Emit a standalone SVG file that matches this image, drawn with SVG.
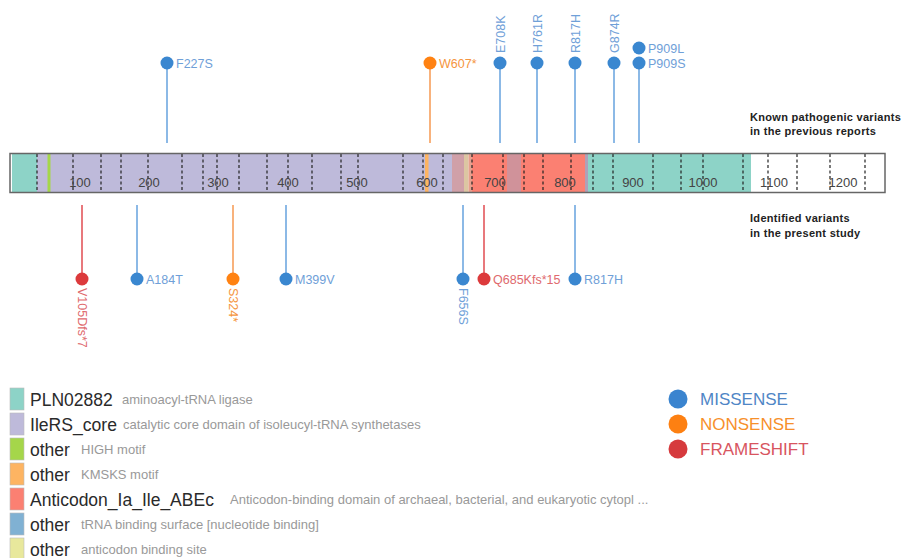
<svg xmlns="http://www.w3.org/2000/svg" width="902" height="558" viewBox="0 0 902 558">
<style>
text{font-family:"Liberation Sans",Arial,sans-serif}
.tick{font-size:13px;fill:#444;text-anchor:middle}
.dash{stroke:#222;stroke-width:1.2;stroke-dasharray:3 2.5}
.sb{stroke:#8cb9e6;stroke-width:2}
.so{stroke:#f8b27c;stroke-width:2}
.sr{stroke:#e8787c;stroke-width:2}
.cb{fill:#3a87d0}
.co{fill:#ff8212}
.cr{fill:#dc3a3c}
.lb{font-size:12.5px;fill:#6fa0d8}
.lo{font-size:12.5px;fill:#f59540}
.lr{font-size:12.5px;fill:#e06a6e}
.note{font-size:11px;font-weight:bold;fill:#222;letter-spacing:0.3px}
.lgm{font-size:17.5px;fill:#2a2a2a}
.lgd{font-size:13px;fill:#999}
.sw{stroke:#bbb;stroke-width:0.6}
.kt{font-size:17px}
</style>

<g id="protein-bar">
  <rect x="10" y="153.5" width="875" height="39" fill="#ffffff"/>
  <rect x="12" y="153.5" width="25" height="39" fill="#8dd3c7"/>
  <rect x="37" y="153.5" width="415" height="39" fill="#bebada"/>
  <rect x="47.5" y="153.5" width="3" height="39" fill="#a5d64a"/>
  <rect x="425" y="153.5" width="3.5" height="39" fill="#fdb462"/>
  <rect x="452" y="153.5" width="12" height="39" fill="#d0a0a8"/>
  <rect x="464" y="153.5" width="4.5" height="39" fill="#dcc6a2"/>
  <rect x="468.5" y="153.5" width="3.5" height="39" fill="#e7a08e"/>
  <rect x="472" y="153.5" width="35" height="39" fill="#fb8072"/>
  <rect x="507" y="153.5" width="14" height="39" fill="#d0929a"/>
  <rect x="521" y="153.5" width="64" height="39" fill="#fb8072"/>
  <rect x="585" y="153.5" width="3" height="39" fill="#b0a0b8"/>
  <rect x="588" y="153.5" width="163" height="39" fill="#8dd3c7"/>
  <g id="dashes">
    <line class="dash" x1="37" y1="154" x2="37" y2="192"/>
    <line class="dash" x1="73" y1="154" x2="73" y2="192"/>
    <line class="dash" x1="101" y1="154" x2="101" y2="192"/>
    <line class="dash" x1="121" y1="154" x2="121" y2="192"/>
    <line class="dash" x1="148" y1="154" x2="148" y2="192"/>
    <line class="dash" x1="182" y1="154" x2="182" y2="192"/>
    <line class="dash" x1="203" y1="154" x2="203" y2="192"/>
    <line class="dash" x1="217" y1="154" x2="217" y2="192"/>
    <line class="dash" x1="239" y1="154" x2="239" y2="192"/>
    <line class="dash" x1="267" y1="154" x2="267" y2="192"/>
    <line class="dash" x1="288" y1="154" x2="288" y2="192"/>
    <line class="dash" x1="312" y1="154" x2="312" y2="192"/>
    <line class="dash" x1="341" y1="154" x2="341" y2="192"/>
    <line class="dash" x1="358" y1="154" x2="358" y2="192"/>
    <line class="dash" x1="403" y1="154" x2="403" y2="192"/>
    <line class="dash" x1="423" y1="154" x2="423" y2="192"/>
    <line class="dash" x1="443" y1="154" x2="443" y2="192"/>
    <line class="dash" x1="472" y1="154" x2="472" y2="192"/>
    <line class="dash" x1="503" y1="154" x2="503" y2="192"/>
    <line class="dash" x1="524" y1="154" x2="524" y2="192"/>
    <line class="dash" x1="543" y1="154" x2="543" y2="192"/>
    <line class="dash" x1="571" y1="154" x2="571" y2="192"/>
    <line class="dash" x1="593" y1="154" x2="593" y2="192"/>
    <line class="dash" x1="613" y1="154" x2="613" y2="192"/>
    <line class="dash" x1="653" y1="154" x2="653" y2="192"/>
    <line class="dash" x1="681" y1="154" x2="681" y2="192"/>
    <line class="dash" x1="703" y1="154" x2="703" y2="192"/>
    <line class="dash" x1="743" y1="154" x2="743" y2="192"/>
    <line class="dash" x1="768" y1="154" x2="768" y2="192"/>
    <line class="dash" x1="797" y1="154" x2="797" y2="192"/>
    <line class="dash" x1="830" y1="154" x2="830" y2="192"/>
    <line class="dash" x1="865" y1="154" x2="865" y2="192"/>
  </g>
  <rect x="10" y="153.5" width="875" height="39" fill="none" stroke="#666" stroke-width="1.5"/>
  <g id="ticks">
    <text class="tick" x="80" y="187">100</text>
    <text class="tick" x="149" y="187">200</text>
    <text class="tick" x="218" y="187">300</text>
    <text class="tick" x="288" y="187">400</text>
    <text class="tick" x="357" y="187">500</text>
    <text class="tick" x="427" y="187">600</text>
    <text class="tick" x="495" y="187">700</text>
    <text class="tick" x="565" y="187">800</text>
    <text class="tick" x="633" y="187">900</text>
    <text class="tick" x="703" y="187">1000</text>
    <text class="tick" x="774" y="187">1100</text>
    <text class="tick" x="843" y="187">1200</text>
  </g>
</g>

<g id="connectors">
  <line class="sb" x1="167" y1="63" x2="167" y2="143"/>
  <line class="so" x1="430" y1="63" x2="430" y2="143"/>
  <line class="sb" x1="500" y1="63" x2="500" y2="143"/>
  <line class="sb" x1="537" y1="63" x2="537" y2="143"/>
  <line class="sb" x1="575" y1="63" x2="575" y2="143"/>
  <line class="sb" x1="614" y1="63" x2="614" y2="143"/>
  <line class="sb" x1="639" y1="63" x2="639" y2="143"/>
  <line class="sr" x1="82" y1="205" x2="82" y2="279"/>
  <line class="sb" x1="137" y1="205" x2="137" y2="279"/>
  <line class="so" x1="233" y1="205" x2="233" y2="279"/>
  <line class="sb" x1="286" y1="205" x2="286" y2="279"/>
  <line class="sb" x1="463" y1="205" x2="463" y2="279"/>
  <line class="sr" x1="484" y1="205" x2="484" y2="279"/>
  <line class="sb" x1="575" y1="205" x2="575" y2="279"/>
</g>

<g id="v-F227S"><circle class="cb" cx="167" cy="63" r="6.5"/><text class="lb" x="176" y="67.5">F227S</text></g>
<g id="v-W607"><circle class="co" cx="430" cy="63" r="6.5"/><text class="lo" x="439" y="67.5">W607*</text></g>
<g id="v-E708K"><circle class="cb" cx="500" cy="63" r="6.5"/><text class="lb" transform="translate(504.5,53) rotate(-90)">E708K</text></g>
<g id="v-H761R"><circle class="cb" cx="537" cy="63" r="6.5"/><text class="lb" transform="translate(541.5,53) rotate(-90)">H761R</text></g>
<g id="v-R817H-top"><circle class="cb" cx="575" cy="63" r="6.5"/><text class="lb" transform="translate(579.5,53) rotate(-90)">R817H</text></g>
<g id="v-G874R"><circle class="cb" cx="614" cy="63" r="6.5"/><text class="lb" transform="translate(618.5,53) rotate(-90)">G874R</text></g>
<g id="v-P909L"><circle class="cb" cx="639" cy="48" r="6.5"/><text class="lb" x="648" y="52.5">P909L</text></g>
<g id="v-P909S"><circle class="cb" cx="639" cy="63" r="6.5"/><text class="lb" x="648" y="67.5">P909S</text></g>

<g id="v-V105Dfs"><circle class="cr" cx="82" cy="279" r="6.5"/><text class="lr" transform="translate(77.5,288) rotate(90)">V105Dfs*7</text></g>
<g id="v-A184T"><circle class="cb" cx="137" cy="279" r="6.5"/><text class="lb" x="146" y="283.5">A184T</text></g>
<g id="v-S324"><circle class="co" cx="233" cy="279" r="6.5"/><text class="lo" transform="translate(228.5,288) rotate(90)">S324*</text></g>
<g id="v-M399V"><circle class="cb" cx="286" cy="279" r="6.5"/><text class="lb" x="295" y="283.5">M399V</text></g>
<g id="v-F656S"><circle class="cb" cx="463" cy="279" r="6.5"/><text class="lb" transform="translate(458.5,288) rotate(90)">F656S</text></g>
<g id="v-Q685Kfs"><circle class="cr" cx="484" cy="279" r="6.5"/><text class="lr" x="493" y="283.5">Q685Kfs*15</text></g>
<g id="v-R817H-bottom"><circle class="cb" cx="575" cy="279" r="6.5"/><text class="lb" x="584" y="283.5">R817H</text></g>

<g id="note-known"><text class="note" x="750" y="121">Known pathogenic variants</text><text class="note" x="750" y="135">in the previous reports</text></g>
<g id="note-identified"><text class="note" x="750" y="222">Identified variants</text><text class="note" x="750" y="237">in the present study</text></g>

<g id="legend-domains">
  <g id="lg-1"><rect class="sw" x="10" y="388" width="14" height="22" fill="#8dd3c7"/><text class="lgm" x="30" y="405.5">PLN02882</text><text class="lgd" x="122" y="404">aminoacyl-tRNA ligase</text></g>
  <g id="lg-2"><rect class="sw" x="10" y="413" width="14" height="22" fill="#bebada"/><text class="lgm" x="30" y="430.5" textLength="87" lengthAdjust="spacingAndGlyphs">IleRS_core</text><text class="lgd" x="123" y="429">catalytic core domain of isoleucyl-tRNA synthetases</text></g>
  <g id="lg-3"><rect class="sw" x="10" y="438" width="14" height="22" fill="#a5d64a"/><text class="lgm" x="30" y="455.5">other</text><text class="lgd" x="81" y="454">HIGH motif</text></g>
  <g id="lg-4"><rect class="sw" x="10" y="463" width="14" height="22" fill="#fdb462"/><text class="lgm" x="30" y="480.5">other</text><text class="lgd" x="81" y="479">KMSKS motif</text></g>
  <g id="lg-5"><rect class="sw" x="10" y="488" width="14" height="22" fill="#fb8072"/><text class="lgm" x="30" y="505.5">Anticodon_Ia_Ile_ABEc</text><text class="lgd" x="230" y="504">Anticodon-binding domain of archaeal, bacterial, and eukaryotic cytopl ...</text></g>
  <g id="lg-6"><rect class="sw" x="10" y="513" width="14" height="22" fill="#80b1d3"/><text class="lgm" x="30" y="530.5">other</text><text class="lgd" x="81" y="529">tRNA binding surface [nucleotide binding]</text></g>
  <g id="lg-7"><rect class="sw" x="10" y="538" width="14" height="22" fill="#e8e89c"/><text class="lgm" x="30" y="555.5">other</text><text class="lgd" x="81" y="554">anticodon binding site</text></g>
</g>

<g id="legend-types">
  <g id="lt-missense"><circle cx="678" cy="399" r="9.5" fill="#3a84cf"/><text class="kt" x="700" y="405" fill="#4f86c6">MISSENSE</text></g>
  <g id="lt-nonsense"><circle cx="678" cy="424" r="9.5" fill="#fd8012"/><text class="kt" x="700" y="430" fill="#f7902a">NONSENSE</text></g>
  <g id="lt-frameshift"><circle cx="678" cy="449" r="9.5" fill="#d63a3d"/><text class="kt" x="700" y="455" fill="#d8555f">FRAMESHIFT</text></g>
</g>
</svg>
